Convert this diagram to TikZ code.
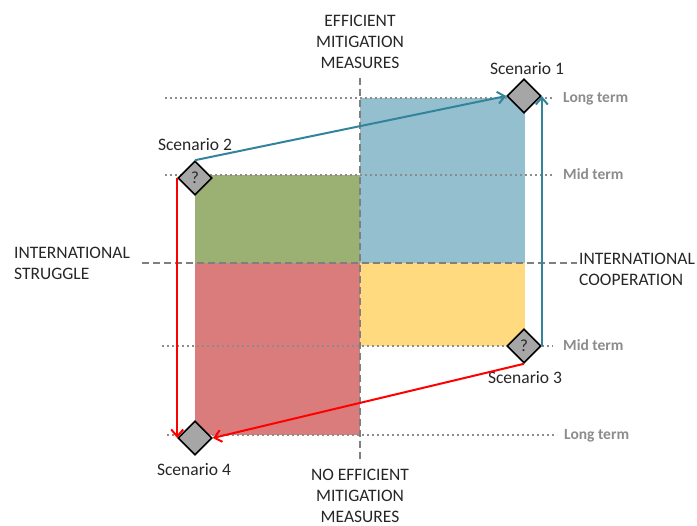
\documentclass[tikz,border=0pt]{standalone}
\usepackage{fontspec}
\setmainfont{Carlito}
\usetikzlibrary{arrows.meta,shapes.geometric}

\definecolor{quadblue}{RGB}{147,191,206}
\definecolor{quadgreen}{RGB}{155,177,116}
\definecolor{quadred}{RGB}{218,123,124}
\definecolor{quadyellow}{RGB}{255,218,126}
\definecolor{diamondgray}{RGB}{166,166,166}
\definecolor{termgray}{RGB}{140,140,140}
\definecolor{axisgray}{RGB}{127,127,127}
\definecolor{textdark}{RGB}{38,38,38}
\definecolor{coopteal}{RGB}{49,132,155}
\definecolor{strugred}{RGB}{255,0,0}

\begin{document}
\begin{tikzpicture}[x=1pt,y=-1pt,
  scen/.style={diamond, aspect=1, draw=black, line width=1.6pt,
    fill=diamondgray, minimum size=34pt, inner sep=0pt,
    text=textdark, font=\fontsize{17}{17}\selectfont},
  lbl/.style={text=textdark, inner sep=0pt,
    font=\fontsize{17.5}{21}\selectfont},
  term/.style={text=termgray, inner sep=0pt, anchor=base west,
    font=\bfseries\fontsize{15.5}{16}\selectfont},
  guide/.style={draw=termgray, line width=2pt, dash pattern=on 2pt off 3pt},
  axisline/.style={draw=axisgray, line width=2pt, dash pattern=on 7pt off 4pt},
  coop/.style={draw=coopteal, line width=2pt,
    -{Straight Barb[length=7pt,width=12pt]}},
  strug/.style={draw=strugred, line width=2pt,
    -{Straight Barb[length=7pt,width=12pt]}}]

\useasboundingbox (0,0) rectangle (697,526);

% quadrant areas
\fill[quadblue]   (360,98)  rectangle (525,263);
\fill[quadgreen]  (195,175) rectangle (360,263);
\fill[quadred]    (195,263) rectangle (360,435);
\fill[quadyellow] (360,263) rectangle (525,346);

% time horizons
\draw[guide] (165,98)  -- (553,98);
\draw[guide] (165,175) -- (553,175);
\draw[guide] (162,346) -- (553,346);
\draw[guide] (167,435) -- (557,435);

\node[term] (lt1) at (563,103) {Long term};
\node[term] (mt1) at (563,180) {Mid term};
\node[term] (mt2) at (563,351) {Mid term};
\node[term] (lt2) at (564,440) {Long term};

% axes
\draw[axisline] (360,78) -- (360,463);
\draw[axisline] (142,263) -- (577,263);

% axis captions
\node[lbl, align=center] (eff) at (360,42)
  {EFFICIENT\\MITIGATION\\MEASURES};
\node[lbl, align=center] (noeff) at (360,496)
  {NO EFFICIENT\\MITIGATION\\MEASURES};
\node[lbl, align=left, anchor=west] (strg) at (14,263)
  {INTERNATIONAL\\STRUGGLE};
\node[lbl, align=left, anchor=west] (coop) at (579,269)
  {INTERNATIONAL\\COOPERATION};

% scenarios
\node[scen] (s1) at (524,96)  {};
\node[scen] (s2) at (195,178) {?};
\node[scen] (s3) at (524,346) {?};
\node[scen] (s4) at (195,438) {};

\node[lbl, anchor=base] (l1) at (527,75)  {Scenario 1};
\node[lbl, anchor=base] (l2) at (195,151) {Scenario 2};
\node[lbl, anchor=base] (l3) at (525,384) {Scenario 3};
\node[lbl, anchor=base] (l4) at (194,476) {Scenario 4};

% transitions
\draw[coop]  (s2.north) -- (s1.west);
\draw[coop]  (s3.east)  -- (s1.east);
\draw[strug] (s2.west)  -- (s4.west);
\draw[strug] (s3.south) -- (s4.east);

\end{tikzpicture}
\end{document}
